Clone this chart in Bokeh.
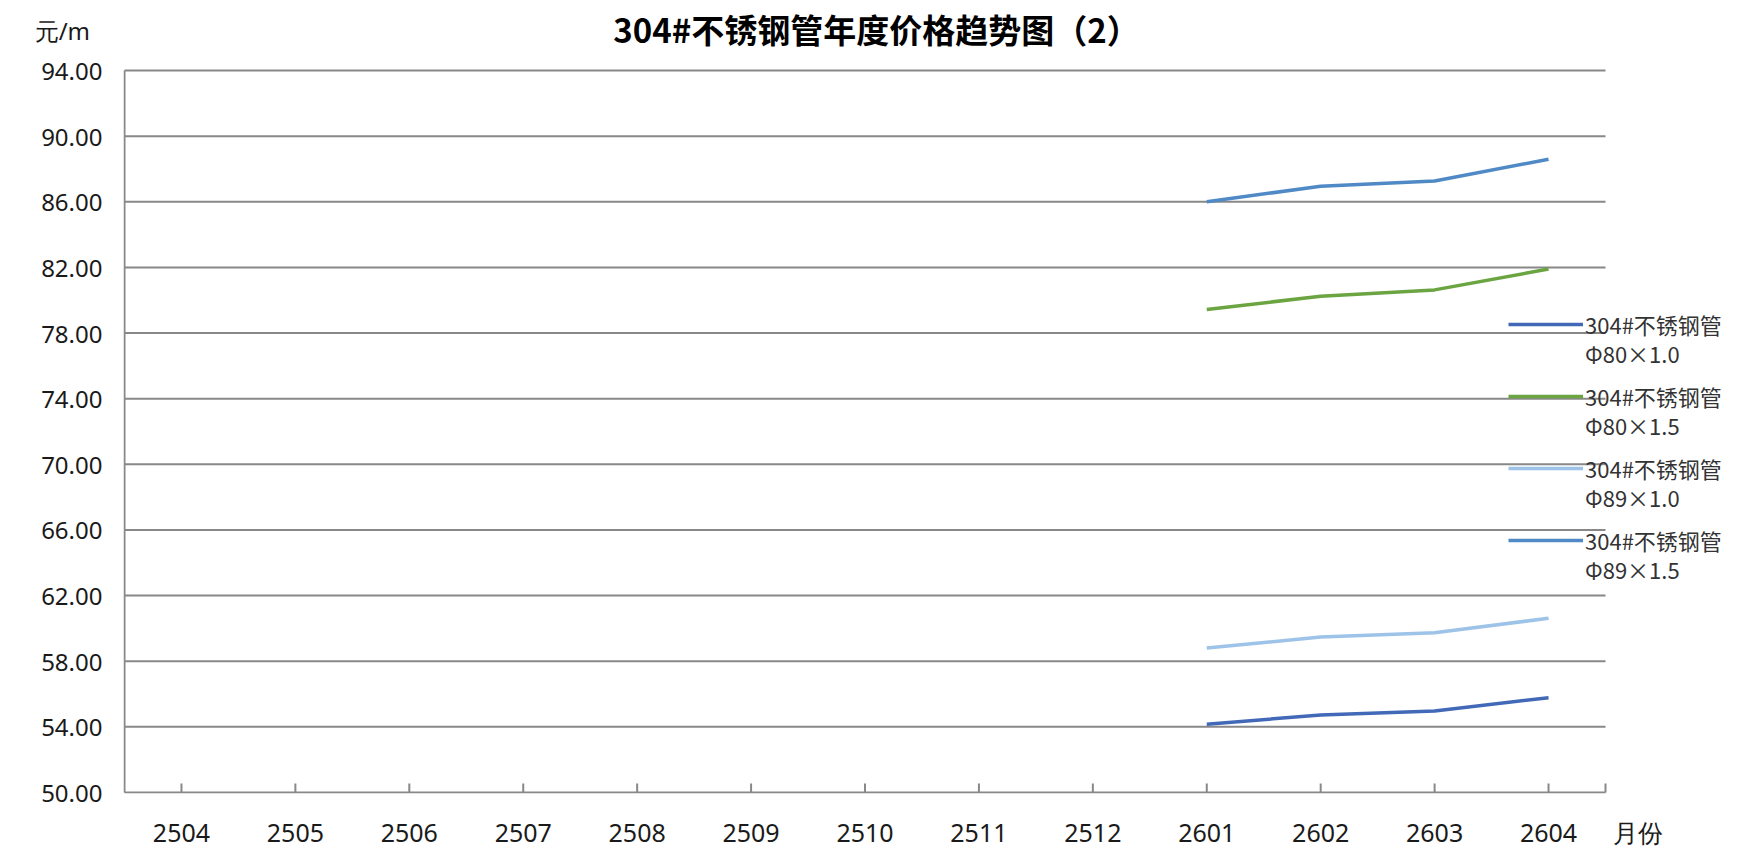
from bokeh.plotting import figure
from bokeh.models import (Range1d, FixedTicker, NumeralTickFormatter, Legend,
                          LegendItem, Label, ColumnDataSource)
from bokeh.embed import file_html
from bokeh.resources import INLINE

nan = float("nan")

# ---------------- data ----------------
months = ["2504", "2505", "2506", "2507", "2508", "2509", "2510",
          "2511", "2512", "2601", "2602", "2603", "2604"]
s_80_10 = [nan] * 9 + [54.16, 54.73, 54.97, 55.78]
s_80_15 = [nan] * 9 + [79.44, 80.24, 80.63, 81.90]
s_89_10 = [nan] * 9 + [58.81, 59.47, 59.73, 60.62]
s_89_15 = [nan] * 9 + [86.00, 86.95, 87.27, 88.59]
series_names = ["Φ80×1.0", "Φ80×1.5", "Φ89×1.0", "Φ89×1.5"]
series_prefix = "304#不锈钢管"
y_ticks = [50, 54, 58, 62, 66, 70, 74, 78, 82, 86, 90, 94]
title_text = "304#不锈钢管年度价格趋势图（2）"
y_unit = "元/m"
x_unit = "月份"

# ---------------- styling / geometry ----------------
colors = ["#4169B8", "#6AA541", "#9DC3E8", "#4F89C6"]
CJK = "Noto Sans CJK SC"
NUM = "Noto Sans"
GRAY = "#888888"
W, H = 1744, 863
FL, FR, FT, FB = 123, 1744, 0, 793          # frame edges (px)
AX_L, AX_R, AX_T, AX_B = 124, 1605, 70, 792   # drawn axis box (px)
n = len(months)
px_x = (AX_R - AX_L) / n
px_y = (AX_B - AX_T) / (y_ticks[-1] - y_ticks[0])
x_min = -(AX_L - FL) / px_x
x_max = x_min + (FR - FL) / px_x
y_min = y_ticks[0] - (FB - AX_B) / px_y
y_max = y_min + (FB - FT) / px_y

xpos = [i + 0.5 for i in range(n)]          # category centres
unit_x = (1637 - AX_L) / px_x               # where "月份" sits on the axis
unit_y = y_min + (FB - 30) / px_y           # where "元/m" sits on the axis
tick_len = 9 / px_y

p = figure(width=W, height=H, output_backend="svg", toolbar_location=None,
           x_range=Range1d(x_min, x_max), y_range=Range1d(y_min, y_max),
           min_border_left=FL, min_border_right=W - FR, min_border_top=FT,
           min_border_bottom=H - FB)
p.outline_line_color = None
p.background_fill_color = "white"
p.border_fill_color = "white"
p.xgrid.visible = False
p.ygrid.visible = False

# y axis (labels only, line drawn as segment below)
p.yaxis.ticker = FixedTicker(ticks=y_ticks + [unit_y])
p.yaxis.formatter = NumeralTickFormatter(format="0.00")
p.yaxis.major_label_overrides = {unit_y: y_unit + "\u00a0\u00a0"}
p.yaxis.major_tick_out = 0
p.yaxis.major_tick_in = 0
p.yaxis.major_tick_line_color = None
p.yaxis.minor_tick_line_color = None
p.yaxis.axis_line_color = None
p.yaxis.major_label_standoff = 21
p.yaxis.major_label_text_font = NUM
p.yaxis.major_label_text_font_size = "24px"
p.yaxis.major_label_text_color = "#1a1a1a"

# x axis (labels only; tick marks drawn as segments)
p.xaxis.ticker = FixedTicker(ticks=xpos + [unit_x])
ov = {x: m for x, m in zip(xpos, months)}
ov[unit_x] = x_unit
p.xaxis.major_label_overrides = ov
p.xaxis.major_tick_in = 0
p.xaxis.major_tick_out = 0
p.xaxis.major_tick_line_color = None
p.xaxis.minor_tick_line_color = None
p.xaxis.axis_line_color = None
p.xaxis.major_label_standoff = 21
p.xaxis.major_label_text_font = NUM
p.xaxis.major_label_text_font_size = "25px"
p.xaxis.major_label_text_color = "#1a1a1a"

# gridlines, axis lines and tick marks
p.segment(x0=[0] * len(y_ticks), x1=[n] * len(y_ticks), y0=y_ticks, y1=y_ticks,
          line_color=GRAY, line_width=2)
p.segment(x0=[0], x1=[0], y0=[y_ticks[0]], y1=[y_ticks[-1]], line_color=GRAY, line_width=2)
tx = xpos + [float(n)]
p.segment(x0=tx, x1=tx, y0=[y_ticks[0]] * len(tx), y1=[y_ticks[0] + tick_len] * len(tx),
          line_color=GRAY, line_width=2)

# series
renderers = []
for vals, c in zip([s_80_10, s_80_15, s_89_10, s_89_15], colors):
    src = ColumnDataSource(dict(x=xpos, y=vals))
    r = p.line("x", "y", source=src, line_color=c, line_width=3.5)
    renderers.append(r)

# legend: first line with swatch
legA = Legend(items=[LegendItem(label=series_prefix, renderers=[r]) for r in renderers],
              location=(1385, 237), orientation="vertical",
              glyph_width=75, glyph_height=30, label_height=30, label_standoff=2,
              spacing=40, padding=0, margin=0,
              border_line_color=None, background_fill_alpha=0,
              label_text_font=CJK, label_text_font_size="22px",
              label_text_color="#333333")
dummies = [p.line([], [], line_alpha=0) for _ in series_names]
legB = Legend(items=[LegendItem(label=nm, renderers=[d]) for nm, d in zip(series_names, dummies)],
              location=(1462, 208), orientation="vertical",
              glyph_width=0, glyph_height=30, label_height=30, label_standoff=0,
              spacing=40, padding=0, margin=0,
              border_line_color=None, background_fill_alpha=0,
              label_text_font=CJK, label_text_font_size="22px",
              label_text_color="#333333")
p.add_layout(legA, "center")
p.add_layout(legB, "center")

# chart title
p.add_layout(Label(x=876 - FL, y=FB - 28, x_units="screen", y_units="screen",
                   text=title_text, text_font=CJK, text_font_size="33px",
                   text_font_style="bold", text_align="center",
                   text_baseline="middle", text_color="#000000"))

open("out.html", "w").write(file_html(p, INLINE))
